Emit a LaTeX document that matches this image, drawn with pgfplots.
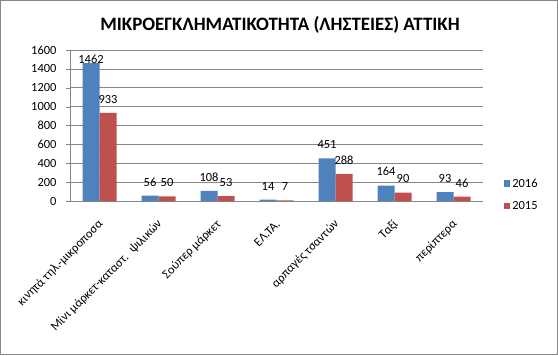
\documentclass[border=0pt]{standalone}
\usepackage{fontspec}
\setmainfont{Carlito}
\usepackage{pgfplots}
\pgfplotsset{compat=1.18}
\definecolor{xlblue}{HTML}{4F81BD}
\definecolor{xlred}{HTML}{C0504D}
\definecolor{xlgrid}{HTML}{868686}
\begin{document}
\begin{tikzpicture}[x=1bp,y=1bp]
\useasboundingbox (0,0) rectangle (558,355);
\draw[xlgrid, line width=1bp] (0.5,0.5) rectangle (557.5,354.5);
\node[font=\fontsize{19}{22}\selectfont\bfseries] at (280,330) {ΜΙΚΡΟΕΓΚΛΗΜΑΤΙΚΟΤΗΤΑ (ΛΗΣΤΕΙΕΣ) ΑΤΤΙΚΗ};
\begin{axis}[
  at={(70bp,154bp)}, anchor=south west,
  scale only axis, width=413bp, height=151bp,
  ybar=0pt, bar width=17bp,
  xmin=-0.5, xmax=6.5, ymin=0, ymax=1600,
  xtick={0,...,6},
  xticklabels={κινητά τηλ.-μικροποσα, Μίνι μάρκετ-καταστ.\ \ ψιλικών, Σούπερ μάρκετ, ΕΛ.ΤΑ., αρπαγές τσαντών, Ταξί, περίπτερα},
  ytick={0,200,...,1600},
  axis x line*=bottom, axis y line*=left,
  axis line style={xlgrid, -},
  ymajorgrids, grid style={xlgrid, line width=0.6bp},
  major x tick style={draw=none},
  major y tick style={xlgrid},
  tick align=outside, major tick length=4bp,
  /pgf/number format/assume math mode=true,
  /pgf/number format/1000 sep={},
  tick label style={font=\fontsize{12.5}{14}\selectfont},
  yticklabel style={xshift=-6bp},
  xticklabel style={xshift=4bp, yshift=-15bp, rotate=45, anchor=east},
  nodes near coords,
  visualization depends on={y \as \rawy},
  nodes near coords style={font=\fontsize{12.5}{14}\selectfont, text=black, yshift={(\rawy>1400)?-4:6}},
  legend style={at={(1.05,0.04)}, anchor=west, draw=none, fill=none, font=\fontsize{12.5}{14}\selectfont, row sep=9bp, inner sep=0pt},
  legend cell align=left,
  legend image code/.code={\fill[#1] (0bp,-3bp) rectangle (6.5bp,3.5bp);},
  clip=false,
]
\addplot[fill=xlblue, draw=none] coordinates {(0,1462) (1,56) (2,108) (3,14) (4,451) (5,164) (6,93)};
\addplot[fill=xlred, draw=none] coordinates {(0,933) (1,50) (2,53) (3,7) (4,288) (5,90) (6,46)};
\legend{2016,2015}
\end{axis}
\end{tikzpicture}
\end{document}
